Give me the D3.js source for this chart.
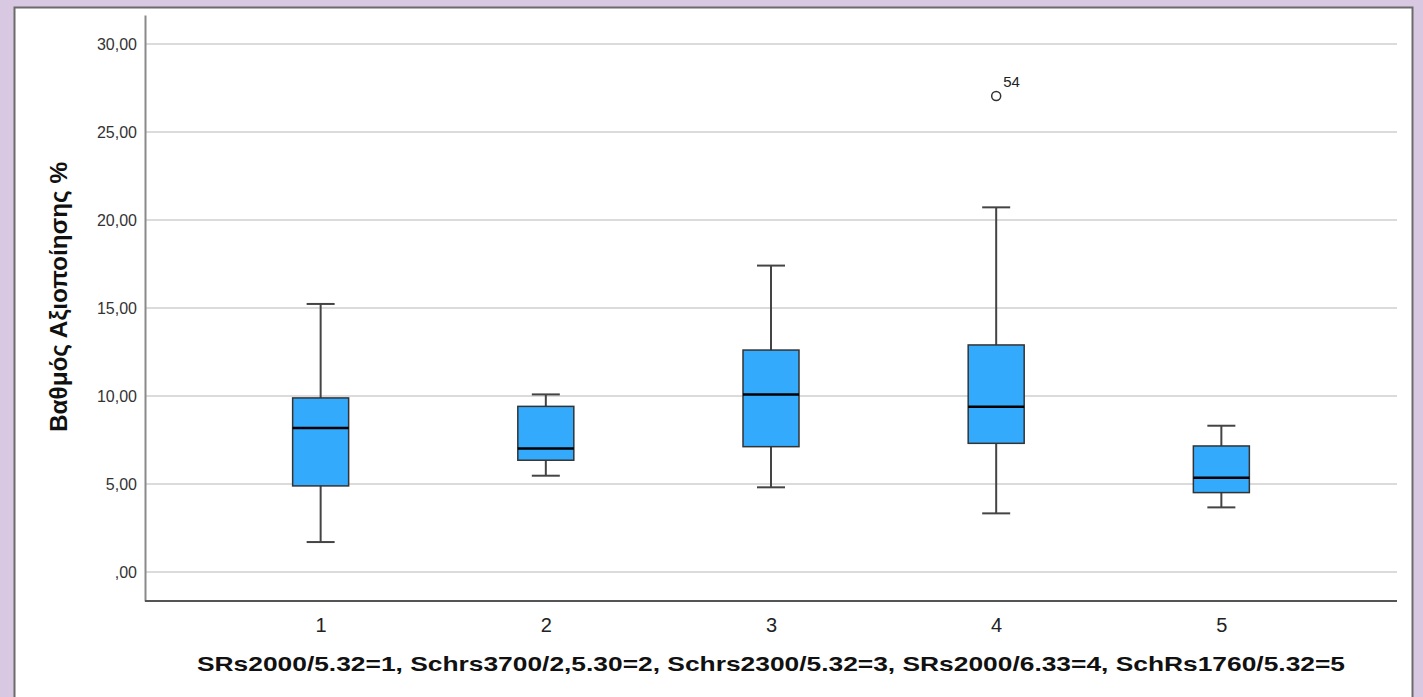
<!DOCTYPE html>
<html lang="el">
<meta charset="utf-8">
<style>
  body { margin: 0; background: #d8c8e2; }
  svg { display: block; }
</style>
<script src="https://cdn.jsdelivr.net/npm/d3@7"></script>
<body>
<div id="chart"></div>
<script>
  // chart data
  var groups = ["1", "2", "3", "4", "5"];
  var whiskLow = [1.70, 5.47, 4.81, 3.33, 3.67];
  var q1 = [4.89, 6.35, 7.12, 7.31, 4.51];
  var median = [8.18, 7.01, 10.09, 9.39, 5.36];
  var q3 = [9.89, 9.41, 12.61, 12.90, 7.16];
  var whiskHigh = [15.23, 10.09, 17.41, 20.72, 8.31];
  var outlierGroup = ["4"];
  var outlierValue = [27.05];
  var outlierLabel = ["54"];
  var yTicks = [0, 5, 10, 15, 20, 25, 30];
  var yTitle = "Βαθμός Αξιοποίησης %";
  var xTitle = "SRs2000/5.32=1, Schrs3700/2,5.30=2, Schrs2300/5.32=3, SRs2000/6.33=4, SchRs1760/5.32=5";

  var W = 1423, H = 697;
  var mLeft = 145, mRight = 1397, mTop = 15, mBottom = 601;

  var svg = d3.select("#chart").append("svg")
      .attr("width", W)
      .attr("height", H);

  // white panel with border
  svg.append("rect")
      .attr("x", 14.5).attr("y", 7.5)
      .attr("width", 1398).attr("height", 700)
      .attr("fill", "white")
      .attr("stroke", "#6b6b6b")
      .attr("stroke-width", 2);

  var x = d3.scalePoint()
      .domain(groups)
      .range([mLeft, mRight])
      .padding(0.78);

  var y = d3.scaleLinear()
      .domain([-1.65, 31.65])
      .range([mBottom, mTop]);

  var fmt = function(d) { return d === 0 ? ",00" : d3.format(".2f")(d).replace(".", ","); };

  // gridlines
  svg.append("g")
    .selectAll("line")
    .data(yTicks)
    .enter().append("line")
      .attr("x1", mLeft).attr("x2", mRight)
      .attr("y1", function(d) { return y(d); })
      .attr("y2", function(d) { return y(d); })
      .attr("stroke", "#cfcfcf")
      .attr("stroke-width", 1.5);

  // y axis
  var yAxis = svg.append("g")
      .attr("transform", "translate(" + mLeft + ",0)")
      .call(d3.axisLeft(y).tickValues(yTicks).tickFormat(fmt).tickSize(0).tickPadding(8));
  yAxis.select(".domain").attr("stroke", "#8a8a8a").attr("stroke-width", 2);
  yAxis.selectAll("text")
      .attr("font-family", "'Liberation Sans', Arial, sans-serif")
      .attr("font-size", 16)
      .attr("fill", "#333");

  // x axis
  var xAxis = svg.append("g")
      .attr("transform", "translate(0," + mBottom + ")")
      .call(d3.axisBottom(x).tickSize(0));
  xAxis.select(".domain")
      .attr("d", "M" + mLeft + ",0H" + mRight)
      .attr("stroke", "#555").attr("stroke-width", 2);
  xAxis.selectAll("text")
      .attr("y", 31)
      .attr("dy", null)
      .attr("font-family", "'Liberation Sans', Arial, sans-serif")
      .attr("font-size", 20)
      .attr("fill", "#222");

  var boxW = 56, capW = 28;
  var idx = d3.range(groups.length);

  var box = svg.append("g").selectAll("g")
      .data(idx)
      .enter().append("g");

  // whiskers
  box.append("line")
      .attr("x1", function(i) { return x(groups[i]); })
      .attr("x2", function(i) { return x(groups[i]); })
      .attr("y1", function(i) { return y(whiskHigh[i]); })
      .attr("y2", function(i) { return y(whiskLow[i]); })
      .attr("stroke", "#444").attr("stroke-width", 2);
  box.append("line")
      .attr("x1", function(i) { return x(groups[i]) - capW / 2; })
      .attr("x2", function(i) { return x(groups[i]) + capW / 2; })
      .attr("y1", function(i) { return y(whiskHigh[i]); })
      .attr("y2", function(i) { return y(whiskHigh[i]); })
      .attr("stroke", "#444").attr("stroke-width", 2);
  box.append("line")
      .attr("x1", function(i) { return x(groups[i]) - capW / 2; })
      .attr("x2", function(i) { return x(groups[i]) + capW / 2; })
      .attr("y1", function(i) { return y(whiskLow[i]); })
      .attr("y2", function(i) { return y(whiskLow[i]); })
      .attr("stroke", "#444").attr("stroke-width", 2);

  // boxes
  box.append("rect")
      .attr("x", function(i) { return x(groups[i]) - boxW / 2; })
      .attr("y", function(i) { return y(q3[i]); })
      .attr("width", boxW)
      .attr("height", function(i) { return y(q1[i]) - y(q3[i]); })
      .attr("fill", "#33aafb")
      .attr("stroke", "#333")
      .attr("stroke-width", 1.5);

  // medians
  box.append("line")
      .attr("x1", function(i) { return x(groups[i]) - boxW / 2; })
      .attr("x2", function(i) { return x(groups[i]) + boxW / 2; })
      .attr("y1", function(i) { return y(median[i]); })
      .attr("y2", function(i) { return y(median[i]); })
      .attr("stroke", "#000").attr("stroke-width", 2.5);

  // outliers
  var out = svg.append("g").selectAll("g")
      .data(d3.range(outlierValue.length))
      .enter().append("g");
  out.append("circle")
      .attr("cx", function(i) { return x(outlierGroup[i]); })
      .attr("cy", function(i) { return y(outlierValue[i]); })
      .attr("r", 4.5)
      .attr("fill", "white")
      .attr("stroke", "#333")
      .attr("stroke-width", 1.5);
  out.append("text")
      .attr("x", function(i) { return x(outlierGroup[i]) + 7; })
      .attr("y", function(i) { return y(outlierValue[i]) - 9; })
      .attr("font-family", "'Liberation Sans', Arial, sans-serif")
      .attr("font-size", 15)
      .attr("fill", "#222")
      .text(function(i) { return outlierLabel[i]; });

  // titles
  svg.append("text")
      .attr("transform", "translate(67,297)rotate(-90)")
      .attr("text-anchor", "middle")
      .attr("font-family", "'Liberation Sans Narrow', 'Liberation Sans', Arial, sans-serif")
      .attr("font-size", 24)
      .attr("font-weight", "bold")
      .attr("textLength", 270)
      .attr("lengthAdjust", "spacingAndGlyphs")
      .attr("fill", "#111")
      .text(yTitle);

  svg.append("text")
      .attr("x", 771)
      .attr("y", 671)
      .attr("text-anchor", "middle")
      .attr("font-family", "'Liberation Sans', Arial, sans-serif")
      .attr("font-weight", "bold")
      .attr("font-size", 21)
      .attr("textLength", 1148)
      .attr("lengthAdjust", "spacingAndGlyphs")
      .attr("fill", "#111")
      .text(xTitle);
</script>
</body>
</html>
